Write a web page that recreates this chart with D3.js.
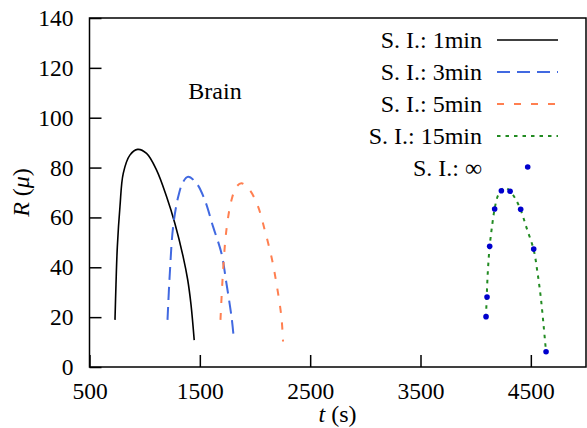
<!DOCTYPE html>
<html>
<head>
<meta charset="utf-8">
<script src="https://cdn.jsdelivr.net/npm/d3@7"></script>
</head>
<body style="margin:0;background:#fff;">
<div id="plot"></div>
<script>
// data: time (s) and radius (mu)
var t1min = [731,740,752,776,806,866,936,1017,1108,1199,1274,1349,1390,1420,1449];
var r1min = [18.9,33,48,64.3,77.7,85.0,87.3,85.7,79.0,68.3,57.6,44.2,35,25,10.8];

var t3min = [1207,1228,1258,1304,1349,1394,1470,1545,1620,1696,1741,1787,1808];
var r3min = [18.9,37.6,56.3,68.3,74.3,76.3,73.7,67.0,56.3,45.6,33.6,20.2,11.5];

var t5min = [1687,1711,1741,1787,1832,1877,1952,2028,2088,2149,2194,2239,2254];
var r5min = [18.9,38.9,55.0,67.0,72.3,73.7,71.0,64.3,55.0,44.2,33.6,20.2,10.2];

var t15min = [4094,4100,4110,4127,4150,4172,4200,4233,4270,4312,4360,4408,4460,4526,4560,4590,4615,4638];
var r15min = [20,28,38,48.5,57,63.5,68.5,71,72,70.5,67.5,63,56,47,38,28,17,6];

var tInf = [4094,4103,4127,4172,4233,4312,4408,4526,4638];
var rInf = [20.2,28.1,48.4,63.4,70.7,70.5,63.3,47.3,6.1];

var xTicks = [500,1500,2500,3500,4500];
var yTicks = [0,20,40,60,80,100,120,140];
var legendLabels = ['S. I.: 1min','S. I.: 3min','S. I.: 5min','S. I.: 15min','S. I.: \u221E'];

var margin = {t:18,r:1,b:61,l:89.5};
var width = 587-margin.l-margin.r,
	height = 428-margin.t-margin.b;

var svg = d3.select('#plot')
	.append('svg')
	.attr('width',587)
	.attr('height',428)
	.attr('font-family','Liberation Serif')
	.attr('font-size',24);
var plot = svg.append('g')
	.attr('transform','translate('+margin.l+','+margin.t+')');

var x = d3.scaleLinear().domain([500,5000]).range([0,width]);
var y = d3.scaleLinear().domain([0,140]).range([height,0]);

var xAxis = plot.append('g')
	.attr('transform','translate(0,'+height+')')
	.call(d3.axisBottom(x).tickValues(xTicks).tickSize(-12).tickPadding(15).tickFormat(d3.format('d')));
var yAxis = plot.append('g')
	.call(d3.axisLeft(y).tickValues(yTicks).tickSize(-12).tickPadding(16));
[xAxis,yAxis].forEach(function(a){
	a.attr('font-family','Liberation Serif').attr('font-size',23.5);
	a.select('.domain').remove();
	a.selectAll('line').attr('stroke','#000').attr('stroke-width',1.5);
	a.selectAll('text').attr('fill','#000');
});

plot.append('rect')
	.attr('width',width).attr('height',height)
	.attr('fill','none').attr('stroke','#000').attr('stroke-width',1.5);

var series = [
	{t:t1min, r:r1min, color:'#000000', dash:null, w:1.6},
	{t:t3min, r:r3min, color:'#4169e1', dash:'13,7', w:2},
	{t:t5min, r:r5min, color:'#ff7f50', dash:'7,10', w:2},
	{t:t15min, r:r15min, color:'#228b22', dash:'3.5,5', w:2}
];

var line = d3.line()
	.x(function(d){return x(d[0]);})
	.y(function(d){return y(d[1]);})
	.curve(d3.curveCatmullRom.alpha(0.5));

series.forEach(function(s){
	plot.append('path')
		.datum(d3.zip(s.t,s.r))
		.attr('d',line)
		.attr('fill','none')
		.attr('stroke',s.color)
		.attr('stroke-width',s.w)
		.attr('stroke-dasharray',s.dash);
});

plot.selectAll('circle.pt')
	.data(d3.zip(tInf,rInf))
	.enter()
	.append('circle')
	.attr('class','pt')
	.attr('cx',function(d){return x(d[0]);})
	.attr('cy',function(d){return y(d[1]);})
	.attr('r',2.8)
	.attr('fill','#0000cd');

// legend
var leg = svg.append('g');
legendLabels.forEach(function(lab,i){
	var ly = 40+i*32;
	leg.append('text')
		.attr('x',482).attr('y',ly).attr('dy','0.35em')
		.attr('text-anchor','end')
		.attr('font-family','Liberation Serif')
		.text(lab);
	if(i<4){
		leg.append('line')
			.attr('x1',497).attr('x2',558)
			.attr('y1',ly).attr('y2',ly)
			.attr('stroke',series[i].color)
			.attr('stroke-width',series[i].w)
			.attr('stroke-dasharray',series[i].dash);
	} else {
		leg.append('circle')
			.attr('cx',527.7).attr('cy',ly-1)
			.attr('r',2.8).attr('fill','#0000cd');
	}
});

svg.append('text')
	.attr('x',215).attr('y',99)
	.attr('text-anchor','middle')
	.attr('font-family','Liberation Serif')
	.text('Brain');

var yl = svg.append('text')
	.attr('transform','translate(29,192.5) rotate(-90)')
	.attr('text-anchor','middle')
	.attr('font-family','Liberation Serif');
yl.append('tspan').attr('font-style','italic').text('R');
yl.append('tspan').text(' (');
yl.append('tspan').attr('font-style','italic').text('\u03BC');
yl.append('tspan').text(')');

var xl = svg.append('text')
	.attr('x',337.5).attr('y',422)
	.attr('text-anchor','middle')
	.attr('font-family','Liberation Serif');
xl.append('tspan').attr('font-style','italic').text('t');
xl.append('tspan').text(' (s)');
</script>
</body>
</html>
